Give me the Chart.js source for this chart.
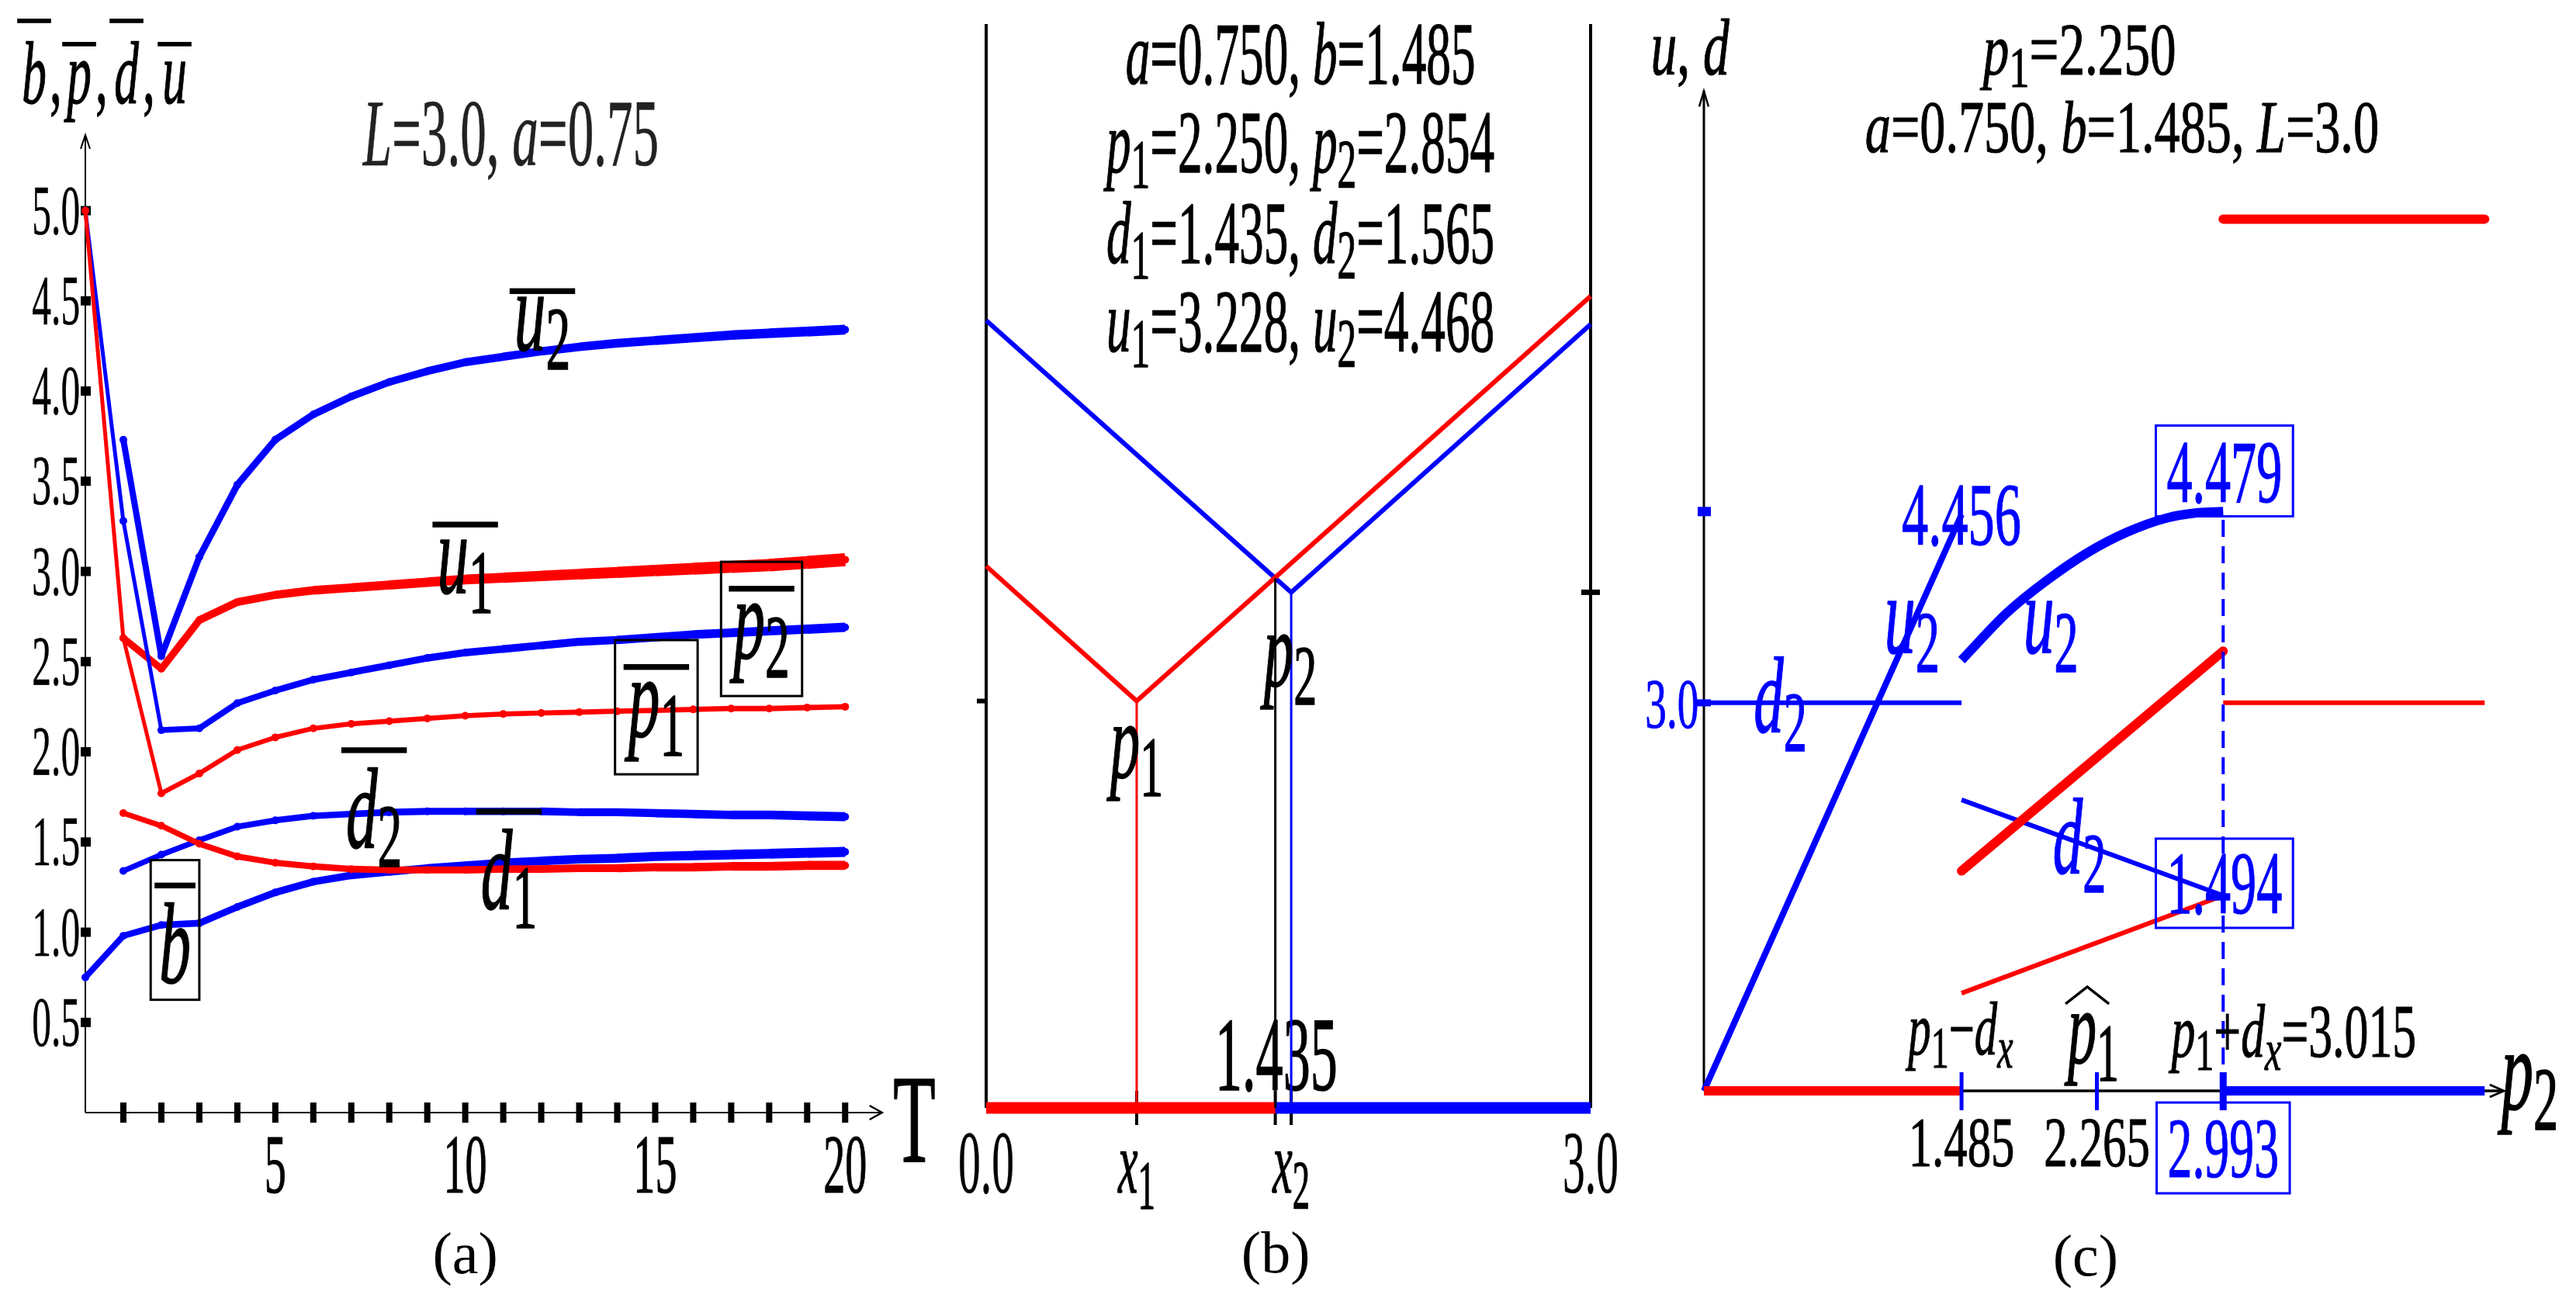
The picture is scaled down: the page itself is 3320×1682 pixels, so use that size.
<!DOCTYPE html>
<html>
<head>
<meta charset="utf-8">
<script src="https://cdn.jsdelivr.net/npm/chart.js@4.4.0/dist/chart.umd.min.js"></script>
<style>
  html, body { margin: 0; padding: 0; background: #fff; }
  #wrap { position: relative; width: 3320px; height: 1682px; overflow: hidden; }
  canvas { position: absolute; top: 0; }
</style>
</head>
<body>
<div id="wrap">
  <canvas id="chartA" width="1210" height="1682" style="left:0px"></canvas>
  <canvas id="chartB" width="895" height="1682" style="left:1210px"></canvas>
  <canvas id="chartC" width="1215" height="1682" style="left:2105px"></canvas>
</div>
<script>
// ── (a) averaged quantities versus T ──
const T_STEPS = [0, 1, 2, 3, 4, 5, 6, 7, 8, 9, 10, 11, 12, 13, 14, 15, 16, 17, 18, 19, 20];
const U2_BAR = [null, 3.73, 2.53, 3.08, 3.48, 3.73, 3.87, 3.97, 4.05, 4.11, 4.16, 4.19, 4.22, 4.245, 4.265, 4.28, 4.295, 4.31, 4.32, 4.33, 4.34];
const U1_BAR = [null, 2.63, 2.46, 2.73, 2.83, 2.87, 2.895, 2.91, 2.925, 2.94, 2.955, 2.965, 2.975, 2.985, 2.995, 3.005, 3.015, 3.025, 3.035, 3.05, 3.065];
const P2_BAR = [5.0, 3.28, 2.12, 2.13, 2.27, 2.34, 2.40, 2.44, 2.48, 2.52, 2.55, 2.57, 2.59, 2.61, 2.62, 2.635, 2.65, 2.66, 2.67, 2.68, 2.69];
const P1_BAR = [5.0, 2.63, 1.77, 1.88, 2.01, 2.08, 2.13, 2.155, 2.17, 2.185, 2.20, 2.21, 2.215, 2.22, 2.225, 2.23, 2.235, 2.24, 2.24, 2.245, 2.25];
const D2_BAR = [null, 1.34, 1.43, 1.51, 1.585, 1.62, 1.645, 1.655, 1.665, 1.67, 1.67, 1.67, 1.67, 1.665, 1.665, 1.66, 1.655, 1.65, 1.65, 1.645, 1.64];
const D1_BAR = [null, 1.66, 1.59, 1.49, 1.42, 1.385, 1.365, 1.35, 1.345, 1.345, 1.345, 1.35, 1.35, 1.355, 1.355, 1.36, 1.36, 1.365, 1.365, 1.37, 1.37];
const B_BAR  = [0.75, 0.98, 1.04, 1.05, 1.14, 1.22, 1.28, 1.315, 1.335, 1.355, 1.37, 1.385, 1.395, 1.405, 1.41, 1.42, 1.425, 1.43, 1.435, 1.44, 1.445];
const A_YTICKS = [0.5, 1.0, 1.5, 2.0, 2.5, 3.0, 3.5, 4.0, 4.5, 5.0];
const A_XTICKS = [1, 2, 3, 4, 5, 6, 7, 8, 9, 10, 11, 12, 13, 14, 15, 16, 17, 18, 19, 20];
const A_XLABELS = [5, 10, 15, 20];

// ── (b) characteristics in the (x, T) plane ──
const B_X1 = 0.747, B_DIV = 1.435, B_X2 = 1.514, B_L = 3.0;
const B_RED_X = [0, 0.747, 3.0];
const B_RED_T = [2.69, 2.02, 4.03];
const B_BLUE_X = [0, 1.514, 3.0];
const B_BLUE_T = [3.91, 2.56, 3.89];
const B_RED_VERT_T = [0, 2.02];
const B_DIV_VERT_T = [0, 2.63];
const B_BLUE_VERT_T = [0, 2.56];
const B_XTICKS = [0, 0.747, 1.514, 3.0];
const B_XLABELS = ['0.0', 'x_1', 'x_2', '3.0'];
const B_INFO = ['a=0.750, b=1.485', 'p_1=2.250, p_2=2.854', 'd_1=1.435, d_2=1.565', 'u_1=3.228, u_2=4.468'];

// ── (c) u, d versus p2 ──
const C_P_LOW = 1.485, C_P_HAT = 2.265, C_P_HIGH = 2.993, C_P_END = 4.5;
const C_U2_LEFT_X = [0, 1.485];
const C_U2_LEFT_Y = [0, 4.456];
const C_D2_LEFT_X = [0, 1.485];
const C_D2_LEFT_Y = [3.0, 3.0];
const C_U2_MID_X = [1.485, 1.75, 1.98, 2.21, 2.44, 2.67, 2.85, 2.993];
const C_U2_MID_Y = [3.33, 3.70, 3.95, 4.16, 4.32, 4.43, 4.47, 4.479];
const C_MID_X = [1.485, 2.993];
const C_U1_MID_Y = [1.70, 3.40];
const C_D2_MID_Y = [2.25, 1.51];
const C_D1_MID_Y = [0.755, 1.51];
const C_RIGHT_X = [2.993, 4.5];
const C_U1_RIGHT_Y = [6.74, 6.74];
const C_D1_RIGHT_Y = [3.0, 3.0];
const C_XTICKS = [1.485, 2.265, 2.993];
const C_XLABELS = ['1.485', '2.265', '2.993'];

const RED = '#ff0000', BLUE = '#0000ff', BLACK = '#000000';
const FONT = '"Liberation Serif","DejaVu Serif",serif';

const pts = (xs, ys) => xs.map((x, i) => ({ x, y: ys[i] })).filter(p => p.y != null);
const P = (chart, x, y) => [chart.scales.x.getPixelForValue(x), chart.scales.y.getPixelForValue(y)];

// ── little TeX-ish text painter: letters italic, "_c" subscript ──
function drawTex(ctx, s, x, y, o = {}) {
  const size = o.size || 100, sx = o.sx ?? 0.55, col = o.color || BLACK;
  const toks = [];
  for (let i = 0; i < s.length; i++) {
    let c = s[i], sub = false;
    if (c === '_') { sub = true; c = s[++i]; }
    toks.push({ c, sub, it: !o.roman && /[a-zA-Z]/.test(c) });
  }
  ctx.save();
  ctx.fillStyle = col; ctx.strokeStyle = col;
  ctx.textAlign = 'left'; ctx.textBaseline = 'alphabetic';
  let w = 0;
  toks.forEach(t => {
    t.size = t.sub ? size * 0.78 : size;
    t.font = (t.it ? 'italic ' : '') + t.size.toFixed(1) + 'px ' + FONT;
    ctx.font = t.font;
    t.w = ctx.measureText(t.c).width * sx;
    w += t.w;
  });
  const x0 = o.align === 'left' ? x : o.align === 'right' ? x - w : x - w / 2;
  let cx = x0;
  const heavy = o.heavy ?? size / 90;
  toks.forEach(t => {
    ctx.font = t.font;
    ctx.save();
    ctx.translate(cx, y + (t.sub ? size * 0.17 : 0));
    ctx.scale(sx, 1);
    ctx.fillText(t.c, 0, 0);
    if (heavy > 0) { ctx.lineWidth = heavy; ctx.lineJoin = 'round'; ctx.strokeText(t.c, 0, 0); }
    ctx.restore();
    cx += t.w;
  });
  if (o.bar) ctx.fillRect(x0 - 6, y - o.bar, w + 12, Math.max(5, size * 0.05));
  if (o.box) {
    ctx.lineWidth = 3;
    ctx.strokeRect(x0 - o.box.pad, y - o.box.t, w + 2 * o.box.pad, o.box.t + o.box.b);
  }
  if (o.hat) {
    const hx = x0 + w * 0.38, hy = y - o.hat;
    ctx.lineWidth = 3.5;
    ctx.beginPath();
    ctx.moveTo(hx - 28, hy + 22); ctx.lineTo(hx, hy); ctx.lineTo(hx + 28, hy + 22);
    ctx.stroke();
  }
  ctx.restore();
  return w;
}

function seg(ctx, x0, y0, x1, y1, w, color) {
  ctx.save();
  ctx.beginPath(); ctx.moveTo(x0, y0); ctx.lineTo(x1, y1);
  ctx.lineWidth = w; ctx.strokeStyle = color; ctx.stroke();
  ctx.restore();
}

function chevron(ctx, x, y, dx, dy, len, half, lw) {
  const bx = x - dx * len, by = y - dy * len, nx = -dy, ny = dx;
  ctx.save();
  ctx.beginPath();
  ctx.moveTo(bx + nx * half, by + ny * half); ctx.lineTo(x, y); ctx.lineTo(bx - nx * half, by - ny * half);
  ctx.lineWidth = lw; ctx.strokeStyle = BLACK; ctx.stroke();
  ctx.restore();
}

function lineDs(data, color, width, extra) {
  return Object.assign({
    data, borderColor: color, backgroundColor: color, borderWidth: width,
    pointRadius: 0, fill: false, clip: false, tension: 0, borderCapStyle: 'butt'
  }, extra || {});
}

function makeChart(id, pad, xr, yr, datasets, plugin) {
  return new Chart(document.getElementById(id), {
    type: 'line',
    data: { datasets },
    options: {
      responsive: false,
      animation: false,
      devicePixelRatio: 1,
      layout: { padding: pad },
      plugins: { legend: { display: false }, tooltip: { enabled: false } },
      scales: {
        x: { type: 'linear', min: xr[0], max: xr[1], display: false },
        y: { type: 'linear', min: yr[0], max: yr[1], display: false }
      }
    },
    plugins: [plugin]
  });
}

// ── Panel (a) ──
function seriesA(ys, color, w0, w1, thinUntil, thinW) {
  return lineDs(pts(T_STEPS, ys), color, w1, {
    pointRadius: 5, pointBorderWidth: 0, pointBackgroundColor: color,
    borderJoinStyle: 'round',
    segment: {
      borderWidth: c => c.p0DataIndex < thinUntil ? thinW : w0 + (w1 - w0) * c.p0DataIndex / 19
    }
  });
}

const panelA = {
  id: 'panelA',
  beforeDatasetsDraw(chart) {
    const ctx = chart.ctx;
    const [x0, y0] = P(chart, 0, 0);
    const [, yTop] = P(chart, 0, 5.42);
    const [xEnd] = P(chart, 20.97, 0);
    seg(ctx, x0, y0, x0, yTop, 2, BLACK);
    seg(ctx, x0, y0, xEnd, y0, 2, BLACK);
    chevron(ctx, x0, yTop, 0, -1, 18, 6, 2);
    chevron(ctx, xEnd, y0, 1, 0, 16, 9, 2.5);
    ctx.fillStyle = BLACK;
    A_XTICKS.forEach(t => { const [px] = P(chart, t, 0); ctx.fillRect(px - 4, y0 - 13, 8, 26); });
    A_YTICKS.forEach(v => { const [, py] = P(chart, 0, v); ctx.fillRect(x0 - 6, py - 6, 13, 12); });
  },
  afterDatasetsDraw(chart) {
    const ctx = chart.ctx;
    A_YTICKS.forEach(v => {
      const [, py] = P(chart, 0, v);
      const [px] = P(chart, -0.14, 0);
      drawTex(ctx, v.toFixed(1), px, py + 30, { size: 90, sx: 0.55, align: 'right', roman: true, heavy: 0.5 });
    });
    A_XLABELS.forEach(t => {
      const [px, py] = P(chart, t, -0.443);
      drawTex(ctx, String(t), px, py, { size: 108, sx: 0.52, roman: true });
    });
    let [tx, ty] = P(chart, 21.82, -0.27);
    drawTex(ctx, 'T', tx, ty, { size: 162, sx: 0.55, roman: true });
    [tx, ty] = P(chart, 10.0, -0.89);
    drawTex(ctx, '(a)', tx, ty, { size: 76, sx: 1, roman: true, heavy: 0 });
    [tx, ty] = P(chart, 11.2, 5.25);
    drawTex(ctx, 'L=3.0, a=0.75', tx, ty, { size: 122, sx: 0.55, color: '#222', heavy: 0.6 });
    // axis title  b,p,d,u with bars
    const base = 133;
    drawTex(ctx, 'b', 44, base, { size: 115, sx: 0.55, bar: 109 });
    drawTex(ctx, ',', 72, base, { size: 115, sx: 0.55 });
    drawTex(ctx, 'p', 102, base, { size: 115, sx: 0.55, bar: 79 });
    drawTex(ctx, ',', 131, base, { size: 115, sx: 0.55 });
    drawTex(ctx, 'd', 163, base, { size: 115, sx: 0.55, bar: 109 });
    drawTex(ctx, ',', 192, base, { size: 115, sx: 0.55 });
    drawTex(ctx, 'u', 225, base, { size: 115, sx: 0.55, bar: 79 });
    // series labels
    const L = (s, x, y, o) => { const [px, py] = P(chart, x, y); drawTex(ctx, s, px, py, Object.assign({ size: 148, sx: 0.55 }, o)); };
    L('u_2', 12.03, 4.23, { bar: 79 });
    L('u_1', 10.0, 2.88, { bar: 92 });
    L('p_2', 17.8, 2.52, { bar: 93, box: { t: 124, b: 49, pad: 16 } });
    L('p_1', 15.03, 2.086, { bar: 93, box: { t: 124, b: 49, pad: 17 } });
    L('d_2', 7.6, 1.47, { bar: 129 });
    L('d_1', 11.15, 1.13, { bar: 129 });
    L('b', 2.36, 0.72, { bar: 129, box: { t: 158, b: 22, pad: 11 } });
  }
};

makeChart('chartA', { left: 110, right: 62, top: 132, bottom: 248 }, [0, 21.2], [0, 5.6], [
  seriesA(P1_BAR, RED, 6, 7, 2, 5),
  seriesA(D1_BAR, RED, 7, 12, 0, 0),
  seriesA(D2_BAR, BLUE, 7, 12, 0, 0),
  seriesA(B_BAR, BLUE, 8, 13, 0, 0),
  seriesA(P2_BAR, BLUE, 7, 12, 2, 5),
  seriesA(U1_BAR, RED, 9, 17, 0, 0),
  seriesA(U2_BAR, BLUE, 8, 13, 0, 0)
], panelA);

// ── Panel (b) ──
const panelB = {
  id: 'panelB',
  beforeDatasetsDraw(chart) {
    const ctx = chart.ctx;
    const [xl, yb] = P(chart, 0, 0);
    const [xr, yt] = P(chart, B_L, 5.381);
    seg(ctx, xl, yb, xl, yt, 4, BLACK);
    seg(ctx, xr, yb, xr, yt, 4, BLACK);
    let [, py] = P(chart, 0, B_RED_T[1]);
    seg(ctx, xl - 12, py, xl, py, 6, BLACK);
    [, py] = P(chart, 0, B_BLUE_T[1]);
    seg(ctx, xr - 12, py, xr + 12, py, 7, BLACK);
    [B_X1, B_DIV, B_X2].forEach(x => { const [px] = P(chart, x, 0); seg(ctx, px, yb - 22, px, yb + 22, 4, BLACK); });
    const [dx, dy] = P(chart, 1.44, 0.089);
    drawTex(ctx, '1.435', dx, dy, { size: 135, sx: 0.52, roman: true });
  },
  afterDatasetsDraw(chart) {
    const ctx = chart.ctx;
    B_INFO.forEach((s, i) => {
      const [px, py] = P(chart, 1.56, [5.085, 4.646, 4.195, 3.756][i]);
      drawTex(ctx, s, px, py, { size: 115, sx: 0.55 });
    });
    B_XTICKS.forEach((x, i) => {
      const [px, py] = P(chart, x, -0.42);
      drawTex(ctx, B_XLABELS[i], px, py, { size: 115, sx: 0.5, roman: i === 0 || i === 3, heavy: i === 0 || i === 3 ? 0.5 : 1.3 });
    });
    let [px, py] = P(chart, B_X1, 1.64);
    drawTex(ctx, 'p_1', px, py, { size: 140, sx: 0.55 });
    [px, py] = P(chart, 1.51, 2.095);
    drawTex(ctx, 'p_2', px, py, { size: 140, sx: 0.55 });
    [px, py] = P(chart, 1.437, -0.817);
    drawTex(ctx, '(b)', px, py, { size: 76, sx: 1, roman: true, heavy: 0 });
  }
};

makeChart('chartB', { left: 61, right: 55, top: 31, bottom: 254 }, [0, B_L], [0, 5.381], [
  lineDs(pts([B_X1, B_X1], B_RED_VERT_T), RED, 3),
  lineDs(pts([B_DIV, B_DIV], B_DIV_VERT_T), BLACK, 3),
  lineDs(pts([B_X2, B_X2], B_BLUE_VERT_T), BLUE, 3),
  lineDs(pts(B_RED_X, B_RED_T), RED, 6),
  lineDs(pts(B_BLUE_X, B_BLUE_T), BLUE, 6),
  lineDs(pts([0, B_DIV], [0, 0]), RED, 15),
  lineDs(pts([B_DIV, B_L], [0, 0]), BLUE, 15)
], panelB);

// ── Panel (c) ──
const panelC = {
  id: 'panelC',
  beforeDatasetsDraw(chart) {
    const ctx = chart.ctx;
    const [x0, y0] = P(chart, 0, 0);
    const [, yTop] = P(chart, 0, 7.73);
    const [xEnd] = P(chart, 4.61, 0);
    seg(ctx, x0, y0, x0, yTop, 3, BLACK);
    seg(ctx, x0, y0, xEnd, y0, 3.5, BLACK);
    chevron(ctx, x0, yTop, 0, -1, 20, 6, 2.5);
    chevron(ctx, xEnd, y0, 1, 0, 18, 8, 3);
  },
  afterDatasetsDraw(chart) {
    const ctx = chart.ctx;
    const [x0, y0] = P(chart, 0, 0);
    C_XTICKS.forEach((x, i) => {
      const [px] = P(chart, x, 0);
      const w = i === 2 ? 9 : 5;
      seg(ctx, px, y0 - 24, px, y0 + 25, w, BLUE);
    });
    let [, py] = P(chart, 0, 4.479);
    ctx.fillStyle = BLUE; ctx.fillRect(x0 - 8, py - 6, 17, 12);
    [, py] = P(chart, 0, 3.0);
    seg(ctx, x0 - 9, py, x0 + 9, py, 9, BLUE);

    const L = (s, x, y, o) => { const [px, qy] = P(chart, x, y); return drawTex(ctx, s, px, qy, Object.assign({ sx: 0.55 }, o)); };
    L('u, d', -0.08, 7.86, { size: 104, sx: 0.65 });
    L('p_1=2.250', 2.165, 7.86, { size: 96, sx: 0.7 });
    L('a=0.750, b=1.485, L=3.0', 2.41, 7.26, { size: 96, sx: 0.69 });
    L('4.456', 1.485, 4.22, { size: 114, sx: 0.6, color: BLUE });
    L('4.479', 3.0, 4.55, { size: 114, sx: 0.58, color: BLUE, box: { t: 99, b: 18, pad: 14 } });
    L('u_2', 1.2, 3.39, { size: 145, color: BLUE });
    L('u_2', 2.0, 3.39, { size: 145, color: BLUE });
    L('d_2', 0.44, 2.77, { size: 140, color: BLUE });
    L('d_2', 2.165, 1.68, { size: 140, color: BLUE });
    L('1.494', 3.0, 1.374, { size: 114, sx: 0.58, color: BLUE, box: { t: 96, b: 19, pad: 14 } });
    L('3.0', -0.03, 2.81, { size: 92, sx: 0.6, color: BLUE, align: 'right' });
    L('p_1−d_x', 1.48, 0.28, { size: 98, sx: 0.6 });
    L('p_1', 2.245, 0.216, { size: 135, hat: 98 });
    L('p_1+d_x=3.015', 3.4, 0.264, { size: 98, sx: 0.63 });
    C_XTICKS.forEach((x, i) => {
      if (i < 2) L(C_XLABELS[i], x, -0.58, { size: 92, sx: 0.66 });
      else L(C_XLABELS[i], x, -0.666, { size: 110, sx: 0.58, color: BLUE, box: { t: 96, b: 21, pad: 14 } });
    });
    L('p_2', 4.76, -0.144, { size: 150 });
    L('(c)', 2.2, -1.43, { size: 76, sx: 1, roman: true, heavy: 0 });
  }
};

makeChart('chartC', { left: 91, right: 73, top: 89, bottom: 276 }, [0, 4.7], [0, 7.9], [
  lineDs(pts([0, C_P_LOW], [0, 0]), RED, 12),
  lineDs(pts([C_P_HIGH, C_P_END], [0, 0]), BLUE, 12),
  lineDs(pts([C_P_HIGH, C_P_HIGH], [0, 4.479]), BLUE, 4, { borderDash: [22, 12] }),
  lineDs(pts(C_D2_LEFT_X, C_D2_LEFT_Y), BLUE, 6),
  lineDs(pts(C_U2_LEFT_X, C_U2_LEFT_Y), BLUE, 8),
  lineDs(pts(C_U2_MID_X, C_U2_MID_Y), BLUE, 12, { cubicInterpolationMode: 'monotone' }),
  lineDs(pts(C_MID_X, C_D1_MID_Y), RED, 6),
  lineDs(pts(C_MID_X, C_U1_MID_Y), RED, 12, { borderCapStyle: 'round' }),
  lineDs(pts(C_MID_X, C_D2_MID_Y), BLUE, 6),
  lineDs(pts(C_RIGHT_X, C_D1_RIGHT_Y), RED, 6),
  lineDs(pts(C_RIGHT_X, C_U1_RIGHT_Y), RED, 12, { borderCapStyle: 'round' })
], panelC);
</script>
</body>
</html>
